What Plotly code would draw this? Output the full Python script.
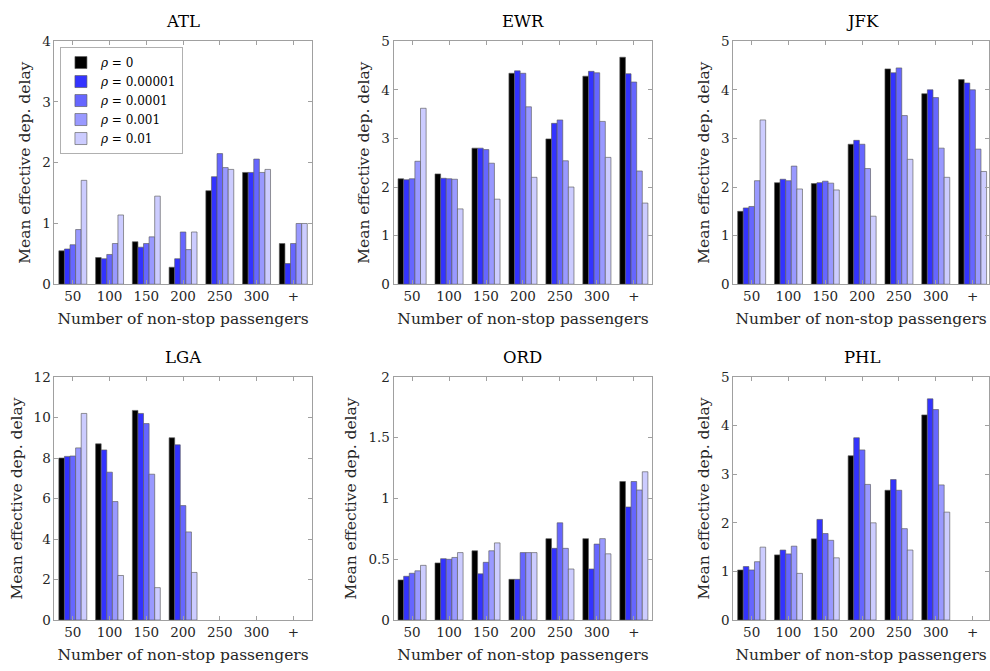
import plotly.graph_objects as go

# Passenger-count bins on the x axis
categories = ["50", "100", "150", "200", "250", "300", "+"]

# Regularisation weights (one bar series each)
rho_labels = ["0", "0.00001", "0.0001", "0.001", "0.01"]
rho_colors = ["#000000", "#3333ff", "#6666ff", "#9999ff", "#ccccff"]

# Mean effective departure delay per airport, rows = rho, columns = bins
atl = [
    [0.55, 0.44, 0.70, 0.28, 1.54, 1.84, 0.67],
    [0.58, 0.42, 0.61, 0.42, 1.77, 1.84, 0.34],
    [0.65, 0.49, 0.67, 0.86, 2.15, 2.06, 0.67],
    [0.90, 0.67, 0.78, 0.57, 1.92, 1.84, 1.00],
    [1.71, 1.14, 1.45, 0.86, 1.89, 1.89, 1.00],
]
ewr = [
    [2.17, 2.27, 2.80, 4.34, 2.99, 4.28, 4.67],
    [2.15, 2.18, 2.80, 4.39, 3.31, 4.38, 4.33],
    [2.17, 2.17, 2.77, 4.34, 3.38, 4.35, 4.16],
    [2.53, 2.16, 2.49, 3.65, 2.54, 3.35, 2.33],
    [3.62, 1.55, 1.75, 2.20, 2.00, 2.61, 1.67],
]
jfk = [
    [1.50, 2.09, 2.07, 2.88, 4.43, 3.92, 4.21],
    [1.57, 2.16, 2.09, 2.96, 4.35, 4.00, 4.14],
    [1.60, 2.13, 2.12, 2.88, 4.45, 3.84, 4.00],
    [2.13, 2.43, 2.08, 2.38, 3.47, 2.80, 2.78],
    [3.38, 1.96, 1.94, 1.40, 2.57, 2.20, 2.32],
]
lga = [
    [8.00, 8.70, 10.35, 9.00, None, None, None],
    [8.08, 8.40, 10.20, 8.65, None, None, None],
    [8.10, 7.30, 9.70, 5.65, None, None, None],
    [8.50, 5.85, 7.20, 4.35, None, None, None],
    [10.20, 2.20, 1.60, 2.35, None, None, None],
]
ord_ = [
    [0.33, 0.47, 0.57, 0.335, 0.67, 0.67, 1.14],
    [0.36, 0.505, 0.38, 0.335, 0.59, 0.42, 0.93],
    [0.385, 0.50, 0.475, 0.555, 0.80, 0.625, 1.14],
    [0.405, 0.515, 0.57, 0.555, 0.59, 0.67, 1.07],
    [0.45, 0.555, 0.635, 0.555, 0.42, 0.545, 1.22],
]
phl = [
    [1.03, 1.34, 1.67, 3.38, 2.67, 4.22, None],
    [1.10, 1.44, 2.07, 3.75, 2.89, 4.55, None],
    [1.03, 1.36, 1.78, 3.50, 2.67, 4.33, None],
    [1.20, 1.52, 1.64, 2.79, 1.88, 2.78, None],
    [1.50, 0.96, 1.28, 2.00, 1.44, 2.22, None],
]

airports = ["ATL", "EWR", "JFK", "LGA", "ORD", "PHL"]
airport_data = [atl, ewr, jfk, lga, ord_, phl]
y_max = [4, 5, 5, 12, 2, 5]
y_step = [1, 1, 1, 2, 0.5, 1]

W, H = 990, 671
FONT = "DejaVu Serif"
AX_COLOR = "#a0a0a0"
TXT_COLOR = "#262626"

# Panel boxes in pixels: (left, right) per column, (top, bottom) per row
col_px = [(54.5, 312.0), (394.0, 653.0), (734.0, 992.0)]
row_px = [(34.0, 283.0), (378.0, 627.0)]

fig = go.Figure()
annotations = []

for k, (name, data) in enumerate(zip(airports, airport_data)):
    r, c = divmod(k, 3)
    n = k + 1
    xa = "x" if n == 1 else f"x{n}"
    ya = "y" if n == 1 else f"y{n}"
    for i, (lab, col) in enumerate(zip(rho_labels, rho_colors)):
        fig.add_trace(go.Bar(
            x=categories, y=data[i], xaxis=xa, yaxis=ya,
            name=f"<i>ρ</i> = {lab}", legendgroup=lab, showlegend=(k == 0),
            marker=dict(color=col, line=dict(color="rgba(90,90,90,0.8)", width=0.8)),
            offsetgroup=str(i),
        ))

    left, right = col_px[c]
    top, bottom = row_px[r]
    scale = (right - left) / 7.0
    vis_right = min(right, W)
    x_end = -0.5 + (vis_right - left) / scale
    xdom = [left / W, vis_right / W]
    ydom = [1 - bottom / H, 1 - top / H]

    axis_common = dict(
        showline=True, linecolor=AX_COLOR, linewidth=1, mirror="ticks",
        ticks="inside", ticklen=4, tickcolor=AX_COLOR, tickwidth=1,
        showgrid=False, zeroline=False,
        tickfont=dict(family=FONT, size=13.5, color=TXT_COLOR),
    )
    fig.update_layout({
        f"xaxis{'' if n == 1 else n}": dict(
            axis_common, domain=xdom, anchor=ya, type="category",
            range=[-0.5, x_end],
            title=dict(text="Number of non-stop passengers", standoff=9,
                       font=dict(family=FONT, size=15.5, color=TXT_COLOR)),
        ),
        f"yaxis{'' if n == 1 else n}": dict(
            axis_common, domain=ydom, anchor=xa,
            range=[0, y_max[k]], dtick=y_step[k], tick0=0,
            title=dict(text="Mean effective dep. delay", standoff=7,
                       font=dict(family=FONT, size=15.5, color=TXT_COLOR)),
        ),
    })
    annotations.append(dict(
        text=name, xref="paper", yref="paper",
        x=(left + right) / 2 / W, y=ydom[1], xanchor="center", yanchor="bottom",
        yshift=8, showarrow=False, font=dict(family=FONT, size=16.5, color="#000000"),
    ))

fig.update_layout(
    width=W, height=H,
    margin=dict(l=0, r=0, t=0, b=0),
    paper_bgcolor="white", plot_bgcolor="white",
    barmode="group", bargap=0.24, bargroupgap=0,
    annotations=annotations,
    showlegend=True,
    legend=dict(
        x=60 / W, y=1 - 40 / H, xanchor="left", yanchor="top",
        bgcolor="white", bordercolor="#b0b0b0", borderwidth=1,
        font=dict(family=FONT, size=12, color="#000000"),
        tracegroupgap=0, itemwidth=30,
    ),
)

fig.write_html("out.html")
